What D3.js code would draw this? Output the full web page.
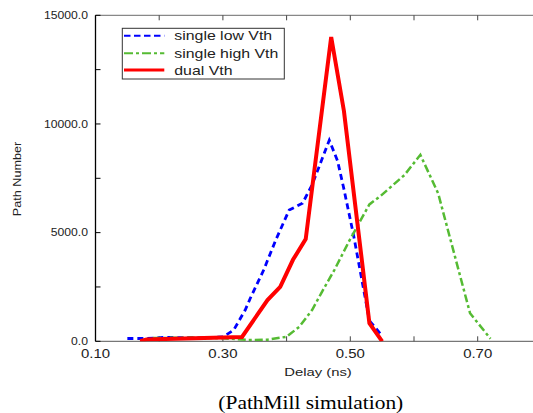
<!DOCTYPE html>
<html><head><meta charset="utf-8">
<script src="https://cdn.jsdelivr.net/npm/d3@7"></script>
<style>body{margin:0;background:#fff}svg{display:block}</style>
</head><body>
<script>
// ---- data ----
const xTickValues = [0.10, 0.30, 0.50, 0.70];
const xTickLabels = ["0.10", "0.30", "0.50", "0.70"];
const yTickValues = [0, 5000, 10000, 15000];
const yTickLabels = ["0.0", "5000.0", "10000.0", "15000.0"];
const seriesNames = ["single low Vth", "single high Vth", "dual Vth"];

const lowVthDelay = [0.15, 0.18, 0.21, 0.26, 0.30, 0.317, 0.335, 0.343, 0.364, 0.383, 0.404, 0.425, 0.44, 0.467, 0.48, 0.49, 0.505, 0.53, 0.55];
const lowVthCount = [130, 130, 180, 160, 200, 520, 1440, 1980, 3280, 4660, 6040, 6350, 7200, 9250, 8300, 7000, 4900, 950, 250];

const highVthDelay = [0.19, 0.25, 0.30, 0.34, 0.37, 0.40, 0.42, 0.44, 0.456, 0.475, 0.498, 0.53, 0.548, 0.585, 0.61, 0.638, 0.688, 0.72];
const highVthCount = [150, 170, 140, 60, 70, 210, 670, 1440, 2300, 3280, 4600, 6300, 6700, 7650, 8580, 6800, 1290, 120];

const dualDelay = [0.17, 0.18, 0.33, 0.37, 0.39, 0.41, 0.43, 0.47, 0.49, 0.53, 0.55];
const dualCount = [0, 80, 200, 1900, 2500, 3750, 4700, 14000, 10600, 830, 0];

// ---- layout ----
const W = 533, H = 413;
const svg = d3.select("body").append("svg").attr("width", W).attr("height", H);
const x = d3.scaleLinear().domain([0.1, 0.8]).range([95.5, 541.4]);
const y = d3.scaleLinear().domain([0, 15000]).range([341.3, 15.3]);

svg.append("defs").append("clipPath").attr("id", "clip")
  .append("rect").attr("x", x(0.1)).attr("y", y(15000) - 4).attr("width", x(0.8) - x(0.1)).attr("height", y(0) - y(15000) + 4);

const sans = "'Liberation Sans', Arial, Helvetica, sans-serif";
function stretchText(g, tx, ty, str, size, sx, anchor, fam, fill) {
  return g.append("text")
    .attr("transform", `translate(${tx},${ty}) scale(${sx},1)`)
    .attr("text-anchor", anchor)
    .attr("font-family", fam || sans)
    .attr("font-size", size)
    .attr("fill", fill || "#222")
    .text(str);
}

// axes
const xMinor = d3.range(0.1, 0.81, 0.1);
const yMinor = d3.range(0, 15001, 2500);
const gAx = svg.append("g");
gAx.append("line").attr("x1", x(0.1)).attr("x2", W).attr("y1", y(15000)).attr("y2", y(15000)).attr("stroke", "#888").attr("stroke-width", 1.2);
gAx.append("line").attr("x1", x(0.1)).attr("x2", W).attr("y1", y(0)).attr("y2", y(0)).attr("stroke", "#777").attr("stroke-width", 1.2);
gAx.selectAll(".xtb").data(xMinor).enter().append("line")
  .attr("x1", d => x(d)).attr("x2", d => x(d)).attr("y1", y(0)).attr("y2", y(0) - 5).attr("stroke", "#444");
gAx.selectAll(".xtt").data(xMinor).enter().append("line")
  .attr("x1", d => x(d)).attr("x2", d => x(d)).attr("y1", y(15000)).attr("y2", y(15000) + 5).attr("stroke", "#444");
gAx.append("line").attr("x1", x(0.1)).attr("x2", x(0.1)).attr("y1", y(15000)).attr("y2", y(0)).attr("stroke", "#000").attr("stroke-width", 1.3);
gAx.selectAll(".ytl").data(yMinor).enter().append("line")
  .attr("x1", x(0.1)).attr("x2", x(0.1) + 5).attr("y1", d => y(d)).attr("y2", d => y(d)).attr("stroke", "#000");

// tick labels
yTickValues.forEach((v, i) => stretchText(svg, 88, y(v) + 3.6, yTickLabels[i], 10, 1.22, "end"));
xTickValues.forEach((v, i) => stretchText(svg, x(v), 358.3, xTickLabels[i], 13, 1.15, "middle"));

// axis titles
stretchText(svg, 318, 376, "Delay (ns)", 11, 1.35, "middle");
svg.append("text")
  .attr("transform", "translate(20.5,179) rotate(-90) scale(1.15,1)")
  .attr("text-anchor", "middle").attr("font-family", sans).attr("font-size", 11).attr("fill", "#222")
  .text("Path Number");
stretchText(svg, 310.8, 409.3, "(PathMill simulation)", 18, 1.19, "middle", "'Liberation Serif', 'Times New Roman', serif", "#000");

// series
const styles = [
  {color: "#0000ff", width: 2.8, dash: "6,4"},
  {color: "#55bb33", width: 2.5, dash: "8,3,3,3"},
  {color: "#ff0000", width: 4, dash: null}
];
const data = [
  d3.zip(lowVthDelay, lowVthCount),
  d3.zip(highVthDelay, highVthCount),
  d3.zip(dualDelay, dualCount)
];
const line = d3.line().x(d => x(d[0])).y(d => y(d[1]));
const gL = svg.append("g").attr("clip-path", "url(#clip)");
data.forEach((pts, i) => {
  gL.append("path").attr("d", line(pts)).attr("fill", "none")
    .attr("stroke", styles[i].color).attr("stroke-width", styles[i].width)
    .attr("stroke-dasharray", styles[i].dash).attr("stroke-linejoin", "miter");
});

// legend
const lg = svg.append("g");
lg.append("rect").attr("x", 122.3).attr("y", 28.3).attr("width", 162).attr("height", 50.7)
  .attr("fill", "#fff").attr("stroke", "#333").attr("stroke-width", 1);
const rowY = [35.7, 53.2, 70];
const legW = [2, 2, 3];
seriesNames.forEach((name, i) => {
  lg.append("line").attr("x1", 124).attr("x2", 164.3).attr("y1", rowY[i]).attr("y2", rowY[i])
    .attr("stroke", styles[i].color).attr("stroke-width", legW[i])
    .attr("stroke-dasharray", i === 0 ? "6.5,3.5" : (i === 1 ? "9,3,3,3" : null));
  stretchText(lg, 174.3, rowY[i] + 4.6, name, 12.5, 1.27, "start");
});
</script>
</body></html>
